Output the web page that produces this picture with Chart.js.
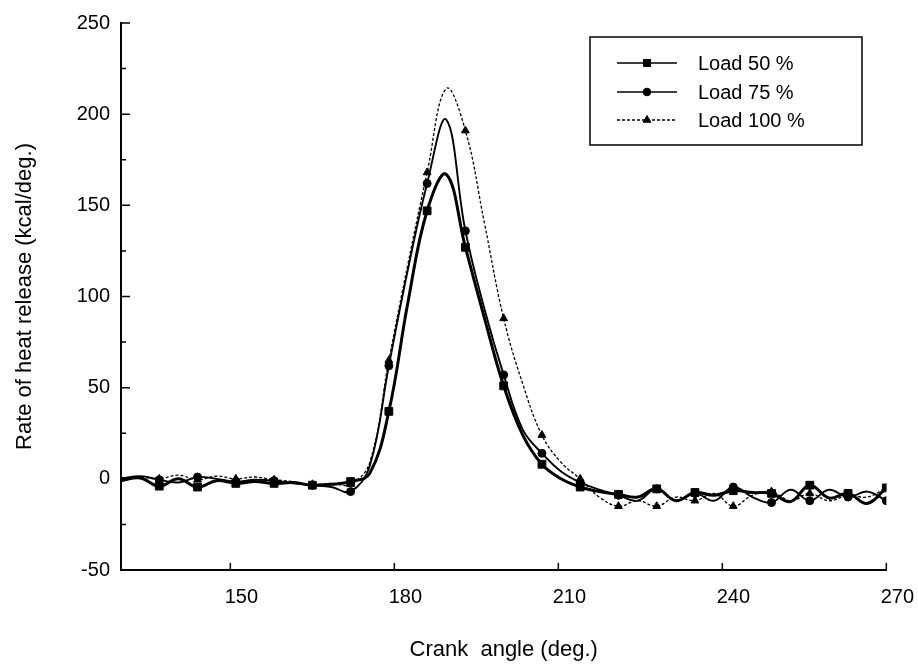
<!DOCTYPE html>
<html>
<head>
<meta charset="utf-8">
<script src="https://cdn.jsdelivr.net/npm/chart.js@4.4.1/dist/chart.umd.min.js"></script>
<style>
html,body{margin:0;padding:0;background:#fff;}
#wrap{width:918px;height:667px;}
</style>
</head>
<body>
<div id="wrap"><canvas id="c" width="918" height="667"></canvas></div>
<script>
// ---- data ----
const angles = [130,133.5,137,140.5,144,147.5,151,154.5,158,161.5,165,168.5,172,
  175.5,179,182.5,186,189.5,193,196.5,200,203.5,207,210.5,214,
  217.5,221,224.5,228,231.5,235,238.5,242,245.5,249,252.5,256,259.5,263,266.5,270];

const load50 = [-1,0.5,-4,0,-4.5,-1,-2.5,-1.5,-2.5,-2,-3.5,-3,-1.5,
  3,37,97,147,167,127,88,51,24,8,0,-4.5,
  -7,-8.5,-10,-5.5,-12,-7.5,-9,-6.5,-7.5,-8,-12.5,-3.5,-10.5,-8,-13.5,-5];

const load75 = [0,1.5,-0.5,-2,1,0,-1.5,-0.5,-1,-2.5,-3.5,-4.5,-7,
  7,62,115,162,197,136,93,57,27,14,4,-2,
  -6,-9,-12,-5.5,-12,-8,-12,-4.5,-10,-13,-6,-12,-6,-10,-7,-12];

const load100 = [0.5,1,0,2,-0.5,1.5,0,1,-0.5,-1.5,-3,-2.5,-3,
  9,65,118,168,214,191,140,88,52,24,9,0,
  -10,-15,-12,-15,-10,-12,-8,-15,-9,-7,-12,-8,-12,-9,-10,-5];

const markerAngles = [137,144,151,158,165,172,179,186,193,200,207,214,221,228,235,242,249,256,263,270];
const xTickValues = [150,180,210,240,270];
const yTickValues = [-50,0,50,100,150,200,250];
const yMinorValues = [-25,25,75,125,175,225];
const seriesLabels = ['Load 50 %','Load 75 %','Load 100 %'];

const FONT = "'Liberation Sans', Arial, sans-serif";
Chart.defaults.font.family = FONT;
Chart.defaults.color = '#000';

function pts(arr){ return angles.map((a,i)=>({x:a,y:arr[i]})); }
function markR(r){ return ctx => (ctx.raw && markerAngles.includes(ctx.raw.x)) ? r : 0; }

const inwardTicks = {
  id:'inwardTicks',
  afterDraw(chart){
    const {ctx, chartArea, scales:{x,y}} = chart;
    ctx.save();
    ctx.strokeStyle='#000';
    ctx.lineWidth=1.5;
    ctx.beginPath();
    xTickValues.forEach(v=>{const px=x.getPixelForValue(v);ctx.moveTo(px,chartArea.bottom);ctx.lineTo(px,chartArea.bottom-7);});
    yTickValues.forEach(v=>{const py=y.getPixelForValue(v);ctx.moveTo(chartArea.left,py);ctx.lineTo(chartArea.left+9,py);});
    yMinorValues.forEach(v=>{const py=y.getPixelForValue(v);ctx.moveTo(chartArea.left,py);ctx.lineTo(chartArea.left+5,py);});
    ctx.stroke();
    ctx.restore();
  }
};

const boxLegend = {
  id:'boxLegend',
  afterDraw(chart){
    const ctx = chart.ctx;
    ctx.save();
    ctx.strokeStyle='#000';
    ctx.lineWidth=1.5;
    ctx.setLineDash([]);
    ctx.strokeRect(590,37,272,108);
    const rows=[63,92,120];
    chart.data.datasets.forEach((ds,i)=>{
      const yy=rows[i];
      ctx.beginPath();
      ctx.setLineDash(ds.borderDash||[]);
      ctx.lineWidth=Math.min(ds.borderWidth,1.6);
      ctx.strokeStyle='#000';
      ctx.moveTo(617,yy);ctx.lineTo(677,yy);ctx.stroke();
      ctx.setLineDash([]);
      ctx.fillStyle='#000';
      ctx.lineWidth=1;
      Chart.helpers.drawPoint(ctx,{pointStyle:ds.pointStyle,radius:ds.legendRadius,borderWidth:1,rotation:0},647,yy);
      ctx.font='20px '+FONT;
      ctx.textBaseline='middle';
      ctx.textAlign='left';
      ctx.fillText(ds.label,698,yy+1);
    });
    ctx.restore();
  }
};

new Chart(document.getElementById('c'),{
  type:'line',
  data:{
    datasets:[
      {label:seriesLabels[0],data:pts(load50),borderColor:'#000',backgroundColor:'#000',borderWidth:3,
       pointStyle:'rect',pointRadius:markR(5.5),pointBorderWidth:1,legendRadius:5,tension:0.4},
      {label:seriesLabels[1],data:pts(load75),borderColor:'#000',backgroundColor:'#000',borderWidth:1.9,
       pointStyle:'circle',pointRadius:markR(4),pointBorderWidth:1,legendRadius:3.8,tension:0.4},
      {label:seriesLabels[2],data:pts(load100),borderColor:'#000',backgroundColor:'#000',borderWidth:1.3,borderDash:[3,2],
       pointStyle:'triangle',pointRadius:markR(4.5),pointBorderWidth:1,legendRadius:4.5,tension:0.4}
    ]
  },
  options:{
    responsive:false,
    animation:false,
    layout:{padding:{top:18,right:31,bottom:0,left:0}},
    plugins:{legend:{display:false},tooltip:{enabled:false}},
    elements:{point:{hoverRadius:0}},
    scales:{
      x:{
        type:'linear',min:130,max:270,
        afterBuildTicks:s=>{s.ticks=xTickValues.map(v=>({value:v}));},
        afterFit:s=>{s.height=97;},
        grid:{display:true,drawOnChartArea:false,drawTicks:false},
        border:{display:true,color:'#000',width:2},
        ticks:{font:{size:20},padding:15,labelOffset:11,color:'#000',maxRotation:0},
        title:{display:true,text:'Crank  angle (deg.)',font:{size:22},color:'#000',padding:{top:0,bottom:4}}
      },
      y:{
        min:-50,max:250,
        afterBuildTicks:s=>{s.ticks=yTickValues.map(v=>({value:v}));},
        afterFit:s=>{s.width=121;},
        grid:{display:true,drawOnChartArea:false,drawTicks:false},
        border:{display:true,color:'#000',width:2},
        ticks:{font:{size:20},padding:11,color:'#000'},
        title:{display:true,text:'Rate of heat release (kcal/deg.)',font:{size:22},color:'#000',padding:{top:12,bottom:0}}
      }
    }
  },
  plugins:[inwardTicks,boxLegend]
});
</script>
</body>
</html>
